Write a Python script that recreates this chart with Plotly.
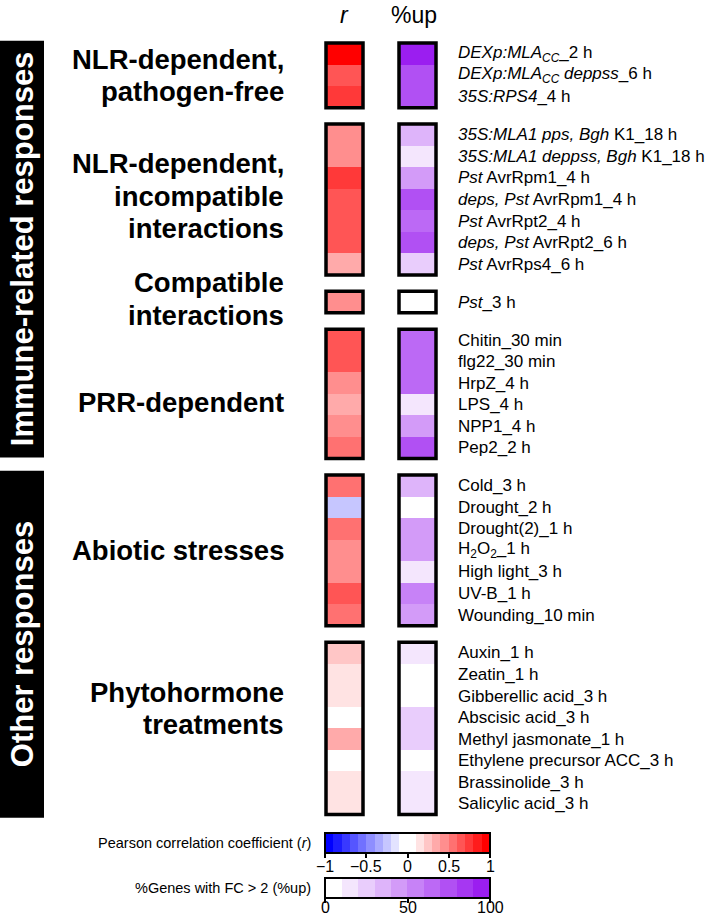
import plotly.graph_objects as go

# ---------------- data ----------------
group_labels = [
    "NLR-dependent,<br>pathogen-free",
    "NLR-dependent,<br>incompatible<br>interactions",
    "Compatible<br>interactions",
    "PRR-dependent",
    "Abiotic stresses",
    "Phytohormone<br>treatments",
]
group_sizes = [3, 7, 1, 6, 7, 8]

section_labels = ["Immune-related responses", "Other responses"]
section_groups = [[0, 1, 2, 3], [4, 5]]

conditions = [
    "<i>DEXp:MLA<sub>CC</sub></i>_2 h",
    "<i>DEXp:MLA<sub>CC</sub> deppss</i>_6 h",
    "<i>35S:RPS4</i>_4 h",
    "<i>35S:MLA1 pps, Bgh</i> K1_18 h",
    "<i>35S:MLA1 deppss, Bgh</i> K1_18 h",
    "<i>Pst</i> AvrRpm1_4 h",
    "<i>deps, Pst</i> AvrRpm1_4 h",
    "<i>Pst</i> AvrRpt2_4 h",
    "<i>deps, Pst</i> AvrRpt2_6 h",
    "<i>Pst</i> AvrRps4_6 h",
    "<i>Pst</i>_3 h",
    "Chitin_30 min",
    "flg22_30 min",
    "HrpZ_4 h",
    "LPS_4 h",
    "NPP1_4 h",
    "Pep2_2 h",
    "Cold_3 h",
    "Drought_2 h",
    "Drought(2)_1 h",
    "H<sub>2</sub>O<sub>2</sub>_1 h",
    "High light_3 h",
    "UV-B_1 h",
    "Wounding_10 min",
    "Auxin_1 h",
    "Zeatin_1 h",
    "Gibberellic acid_3 h",
    "Abscisic acid_3 h",
    "Methyl jasmonate_1 h",
    "Ethylene precursor ACC_3 h",
    "Brassinolide_3 h",
    "Salicylic acid_3 h",
]

r_values = [
    0.95, 0.65, 0.75,
    0.45, 0.45, 0.78, 0.65, 0.65, 0.65, 0.35,
    0.45,
    0.65, 0.65, 0.45, 0.35, 0.45, 0.55,
    0.55, -0.25, 0.55, 0.45, 0.45, 0.65, 0.55,
    0.25, 0.15, 0.15, 0.05, 0.35, 0.02, 0.15, 0.15,
]

up_values = [
    95, 75, 75,
    35, 15, 45, 75, 65, 75, 25,
    5,
    65, 65, 65, 15, 45, 72,
    35, 5, 45, 45, 15, 55, 45,
    15, 5, 5, 25, 25, 5, 15, 15,
]

r_ticks = [-1, -0.5, 0, 0.5, 1]
r_tick_text = ["\u22121", "\u22120.5", "0", "0.5", "1"]
up_ticks = [0, 50, 100]
up_tick_text = ["0", "50", "100"]

# ---------------- layout constants ----------------
W, H = 709, 916
U = 21.55          # px per row
TOP = 43           # px of first cell edge
GAP = 0.761        # gap between groups, in rows
R_X, UP_X, CELL_W = 344.5, 417.5, 37
CB_LEFT, CB_LEN = 325, 165
LINE_PX = 32.5     # line spacing of group labels
FONT = "Liberation Sans, Arial, sans-serif"
label_offsets = [0.0, -0.15, -0.14, 0.4, 0.0, -0.93]
section_pads = [(0.1, -0.05), (0.2, 0.15)]


def px_to_paper(p):
    return 1 - p / H


def step_scale(colors):
    n = len(colors)
    sc = []
    for i, c in enumerate(colors):
        sc.append([i / n, c])
        sc.append([(i + 1) / n, c])
    return sc


r_colors = []
for k in range(9, 0, -1):
    v = round(255 * (1 - k / 9))
    r_colors.append(f"rgb({v},{v},255)")
r_colors += ["rgb(255,255,255)", "rgb(255,255,255)"]
for k in range(1, 10):
    v = round(255 * (1 - k / 9))
    r_colors.append(f"rgb(255,{v},{v})")

up_colors = ["rgb(255,255,255)"]
for k in range(1, 10):
    f = k / 9
    up_colors.append(
        f"rgb({round(255 - 100 * f)},{round(255 - 225 * f)},{round(255 - 15 * f)})"
    )

# row positions
pos = []
yy = 0.0
starts = []
for n in group_sizes:
    starts.append(len(pos))
    for _ in range(n):
        pos.append(yy)
        yy += 1
    yy += GAP

fig = go.Figure()
shapes = []
annotations = []

for gi, n in enumerate(group_sizes):
    s = starts[gi]
    ys = pos[s:s + n]
    fig.add_trace(go.Heatmap(
        z=[[v] for v in r_values[s:s + n]], x0=R_X, dx=CELL_W, y0=ys[0], dy=1,
        coloraxis="coloraxis", hoverinfo="skip"))
    fig.add_trace(go.Heatmap(
        z=[[v] for v in up_values[s:s + n]], x0=UP_X, dx=CELL_W, y0=ys[0], dy=1,
        coloraxis="coloraxis2", hoverinfo="skip"))
    for cx in (R_X, UP_X):
        shapes.append(dict(type="rect", xref="x", yref="y",
                           x0=cx - CELL_W / 2, x1=cx + CELL_W / 2,
                           y0=ys[0] - 0.5, y1=ys[-1] + 0.5,
                           line=dict(color="black", width=3.5),
                           fillcolor="rgba(0,0,0,0)", layer="above"))
    lines = group_labels[gi].split("<br>")
    center = (ys[0] + ys[-1]) / 2 + label_offsets[gi]
    for li, line in enumerate(lines):
        ly = center + (li - (len(lines) - 1) / 2) * LINE_PX / U
        annotations.append(dict(
            x=286, y=ly, xref="x", yref="y",
            text=line, showarrow=False, xanchor="right", yanchor="middle",
            align="right",
            font=dict(family=FONT, size=27.5, color="black", weight="bold")))

for i, c in enumerate(conditions):
    annotations.append(dict(
        x=456, y=pos[i], xref="x", yref="y", text=c, showarrow=False,
        xanchor="left", yanchor="middle", align="left",
        font=dict(family=FONT, size=17, color="black")))

for si, grp in enumerate(section_groups):
    y0 = pos[starts[grp[0]]] - 0.5 - section_pads[si][0]
    last = grp[-1]
    y1 = pos[starts[last] + group_sizes[last] - 1] + 0.5 + section_pads[si][1]
    shapes.append(dict(type="rect", xref="x", yref="y", x0=0, x1=44, y0=y0, y1=y1,
                       fillcolor="black", line=dict(width=0), layer="below"))
    annotations.append(dict(
        x=22, y=(y0 + y1) / 2, xref="x", yref="y", text=section_labels[si],
        showarrow=False, textangle=-90, xanchor="center", yanchor="middle",
        font=dict(family=FONT, size=31, color="white", weight="bold")))

# column headers
annotations.append(dict(x=R_X, y=px_to_paper(15), xref="x", yref="paper",
                        text="<i>r</i>", showarrow=False, yanchor="middle",
                        font=dict(family=FONT, size=23, color="black")))
annotations.append(dict(x=414, y=px_to_paper(15), xref="x", yref="paper",
                        text="%up", showarrow=False, yanchor="middle",
                        font=dict(family=FONT, size=23, color="black")))

# colorbar titles
annotations.append(dict(x=313, y=px_to_paper(843), xref="x", yref="paper",
                        text="Pearson correlation coefficient (<i>r</i>)",
                        showarrow=False, xanchor="right", yanchor="middle",
                        font=dict(family=FONT, size=14.5, color="black")))
annotations.append(dict(x=313, y=px_to_paper(888), xref="x", yref="paper",
                        text="%Genes with FC > 2 (%up)",
                        showarrow=False, xanchor="right", yanchor="middle",
                        font=dict(family=FONT, size=14.5, color="black")))

# colorbar tick labels (placed tight under the bars)
for vals, texts, vmin, vmax, ypx in ((r_ticks, r_tick_text, -1, 1, 866.5),
                                     (up_ticks, up_tick_text, 0, 100, 907.5)):
    for v, t in zip(vals, texts):
        annotations.append(dict(
            x=CB_LEFT + (v - vmin) / (vmax - vmin) * CB_LEN, y=px_to_paper(ypx),
            xref="x", yref="paper", text=t, showarrow=False,
            xanchor="center", yanchor="middle",
            font=dict(family=FONT, size=16, color="black")))

cb_common = dict(orientation="h", xanchor="left", yanchor="top",
                 lenmode="pixels", len=CB_LEN, thickness=20,
                 outlinewidth=2, outlinecolor="black",
                 ticks="outside", ticklen=4, tickwidth=1.5, tickcolor="black",
                 showticklabels=False,
                 xpad=0, ypad=0, x=CB_LEFT / W)

fig.update_layout(
    width=W, height=H,
    margin=dict(l=0, r=0, t=0, b=0, autoexpand=False),
    paper_bgcolor="white", plot_bgcolor="white",
    xaxis=dict(range=[0, W], visible=False, fixedrange=True),
    yaxis=dict(range=[(H - TOP) / U - 0.5, -TOP / U - 0.5], visible=False,
               fixedrange=True),
    coloraxis=dict(cmin=-1, cmax=1, colorscale=step_scale(r_colors),
                   colorbar=dict(**cb_common, y=px_to_paper(833),
                                 tickvals=r_ticks)),
    coloraxis2=dict(cmin=0, cmax=100, colorscale=step_scale(up_colors),
                    colorbar=dict(**cb_common, y=px_to_paper(878),
                                  tickvals=up_ticks)),
    shapes=shapes, annotations=annotations, showlegend=False,
)

fig.write_html("out.html", config={"displayModeBar": False},
               post_script="document.body.style.margin='0';document.body.style.padding='0';")
